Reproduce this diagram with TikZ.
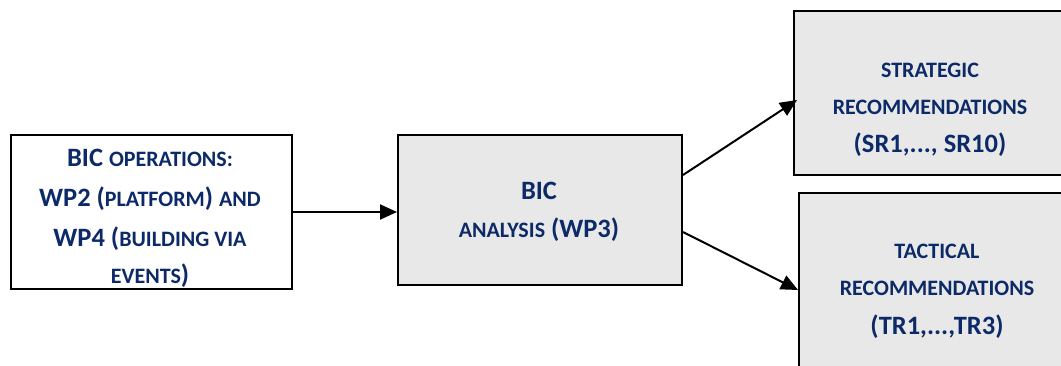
\documentclass[tikz,border=0pt]{standalone}
\usepackage{fontspec}
\setmainfont{Carlito}
\usetikzlibrary{calc,arrows.meta}
\definecolor{navy}{HTML}{0D2A68}
\definecolor{boxgray}{HTML}{E8E8E8}
\newcommand\smc[1]{{\fontsize{22}{22}\selectfont #1}}
\tikzset{
  box/.style={draw=black, line width=2pt, rectangle, anchor=north west, inner sep=0pt},
  lbl/.style={text=navy, font=\bfseries\fontsize{26.5}{26.5}\selectfont, inner sep=0pt, anchor=base},
  arr/.style={line width=2pt, -{Triangle[length=17pt,width=15pt]}, shorten >=0pt},
}
\begin{document}
\begin{tikzpicture}[x=1pt,y=-1pt]
\useasboundingbox (0,0) rectangle (1061,365);
% boxes
\node[box, fill=white, minimum width=281pt, minimum height=154pt] (ops) at (10,134) {};
\node[box, fill=boxgray, minimum width=284pt, minimum height=150pt] (ana) at (397,134) {};
\node[box, fill=boxgray, minimum width=280pt, minimum height=164pt] (sr) at (793,10) {};
\node[box, fill=boxgray, minimum width=280pt, minimum height=190pt] (tr) at (798,192) {};
% texts
\node[lbl] (t1) at (150,166) {BIC \smc{OPERATIONS:}};
\node[lbl] (t2) at (150,206) {WP2 (\smc{PLATFORM}) \smc{AND}};
\node[lbl] (t3) at (150,246) {WP4 (\smc{BUILDING VIA}};
\node[lbl] (t4) at (150,283) {\smc{EVENTS})};
\node[lbl] (a1) at (539,199) {BIC};
\node[lbl] (a2) at (539,237) {\smc{ANALYSIS} (WP3)};
\node[lbl] (s1) at (930,77) {\smc{STRATEGIC}};
\node[lbl] (s2) at (930,114) {\smc{RECOMMENDATIONS}};
\node[lbl] (s3) at (930,152) {(SR1,..., SR10)};
\node[lbl] (r1) at (937,258) {\smc{TACTICAL}};
\node[lbl] (r2) at (937,295) {\smc{RECOMMENDATIONS}};
\node[lbl] (r3) at (937,334) {(TR1,...,TR3)};
% connectors
\coordinate (o1) at ($(ana.north east)+(0,41)$);
\coordinate (o2) at ($(ana.north east)+(0,98)$);
\coordinate (i1) at ($(sr.north west)+(4,90)$);
\coordinate (i2) at ($(tr.north west)+(0,98)$);
\draw[arr] (ops.east) -- (ana.west |- ops.east);
\draw[arr] (o1) -- (i1);
\draw[arr] (o2) -- (i2);
\end{tikzpicture}
\end{document}
